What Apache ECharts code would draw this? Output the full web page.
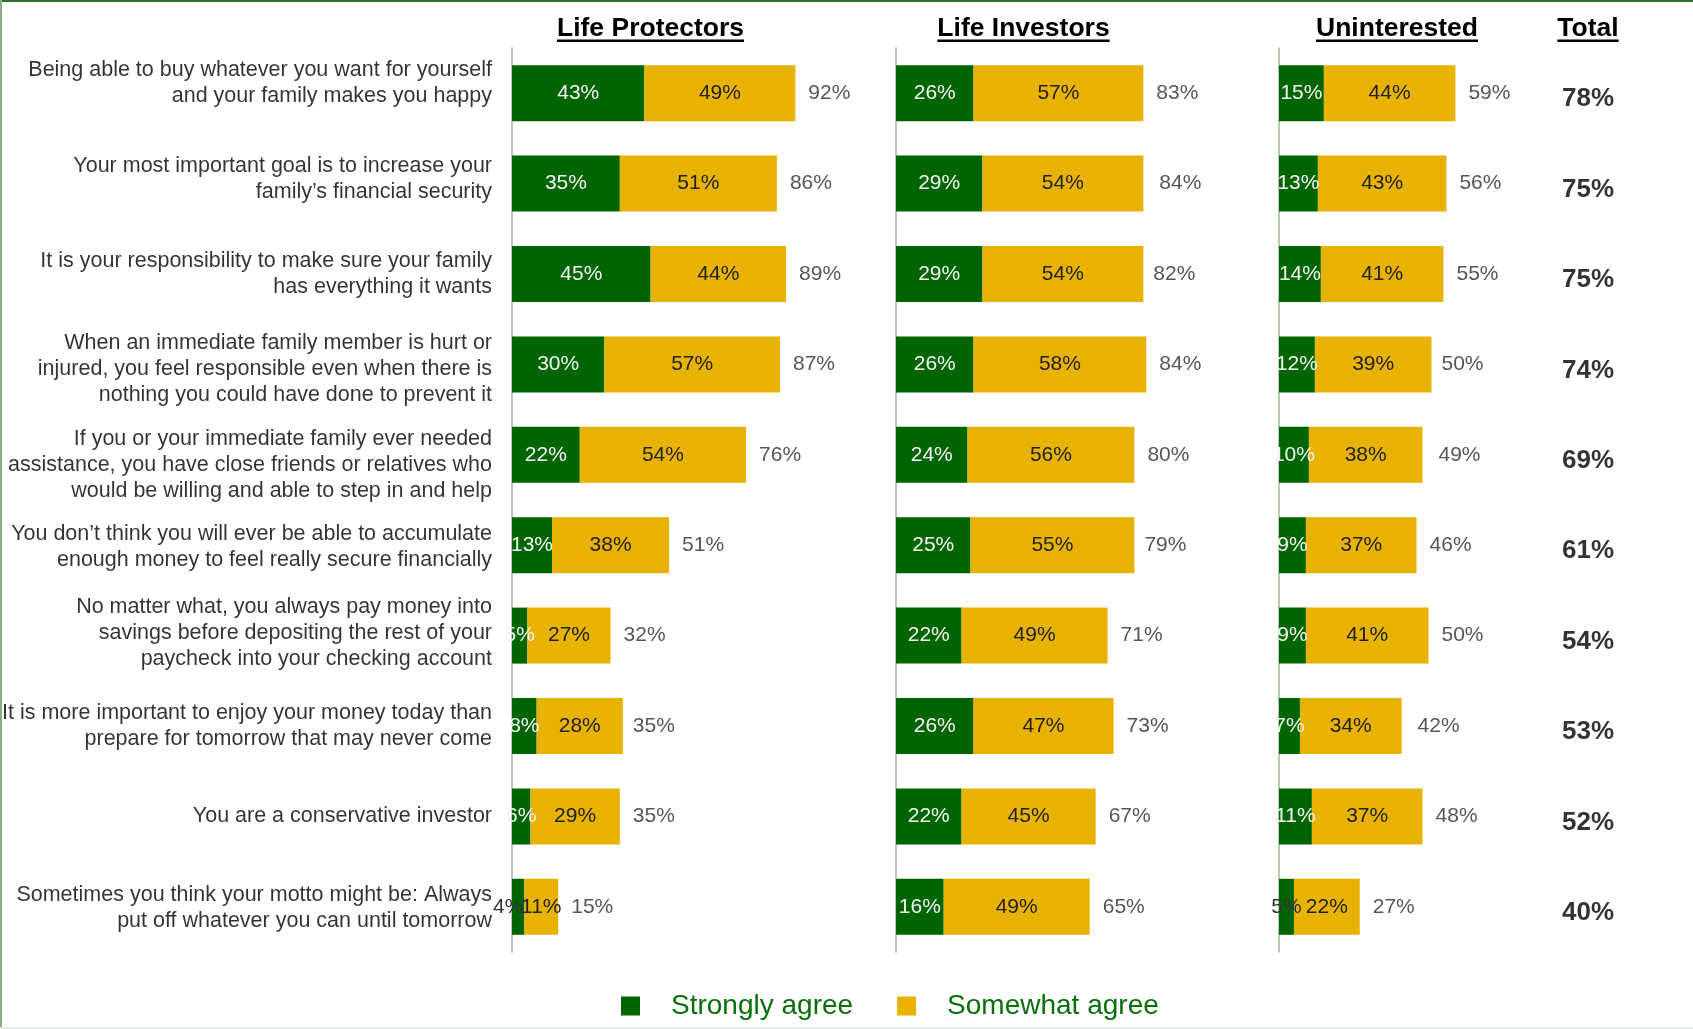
<!DOCTYPE html>
<html>
<head>
<meta charset="utf-8">
<script src="https://cdn.jsdelivr.net/npm/echarts@6/dist/echarts.min.js"></script>
<style>
html,body{margin:0;padding:0;background:#fff;}
#chart{width:1693px;height:1029px;}
</style>
</head>
<body>
<div id="chart"></div>
<script>
// ---------- DATA ----------
var categories = [
  "Being able to buy whatever you want for yourself\nand your family makes you happy",
  "Your most important goal is to increase your\nfamily\u2019s financial security",
  "It is your responsibility to make sure your family\nhas everything it wants",
  "When an immediate family member is hurt or\ninjured, you feel responsible even when there is\nnothing you could have done to prevent it",
  "If you or your immediate family ever needed\nassistance, you have close friends or relatives who\nwould be willing and able to step in and help",
  "You don\u2019t think you will ever be able to accumulate\nenough money to feel really secure financially",
  "No matter what, you always pay money into\nsavings before depositing the rest of your\npaycheck into your checking account",
  "It is more important to enjoy your money today than\nprepare for tomorrow that may never come",
  "You are a conservative investor",
  "Sometimes you think your motto might be: Always\nput off whatever you can until tomorrow"
];
var segmentNames = ["Life Protectors", "Life Investors", "Uninterested"];
var totalHeader = "Total";
var seriesNames = ["Strongly agree", "Somewhat agree"];

var protectorsStrongly = [43, 35, 45, 30, 22, 13, 5, 8, 6, 4];
var protectorsSomewhat = [49, 51, 44, 57, 54, 38, 27, 28, 29, 11];
var protectorsTotal    = [92, 86, 89, 87, 76, 51, 32, 35, 35, 15];

var investorsStrongly  = [26, 29, 29, 26, 24, 25, 22, 26, 22, 16];
var investorsSomewhat  = [57, 54, 54, 58, 56, 55, 49, 47, 45, 49];
var investorsTotal     = [83, 84, 82, 84, 80, 79, 71, 73, 67, 65];

var uninterestedStrongly = [15, 13, 14, 12, 10, 9, 9, 7, 11, 5];
var uninterestedSomewhat = [44, 43, 41, 39, 38, 37, 41, 34, 37, 22];
var uninterestedTotal    = [59, 56, 55, 50, 49, 46, 50, 42, 48, 27];

var overallTotal = [78, 75, 75, 74, 69, 61, 54, 53, 52, 40];

// ---------- STYLE / LAYOUT ----------
var GREEN = '#006400', YELLOW = '#E8B200';
var FONT = '"Liberation Sans", Arial, sans-serif';
var gridTop = 48, gridHeight = 904;
// vertical nudge (px, + = down) of each category label, as placed in the original slide
var labelNudge = [-10, -5, 0, 4.5, 10, 1.5, -3, 0, 0, 1.5];
var panels = [
  {strong: protectorsStrongly, some: protectorsSomewhat, total: protectorsTotal, left: 512, width: 308, center: 650.5},
  {strong: investorsStrongly, some: investorsSomewhat, total: investorsTotal, left: 896, width: 298, center: 1023.5},
  {strong: uninterestedStrongly, some: uninterestedSomewhat, total: uninterestedTotal, left: 1279, width: 299, center: 1397}
];
// small green segments whose label Excel drew in dark colour
var darkStrongLabels = {'0-9': [-10, 0], '2-9': [0, 0]};

var grids = [], xAxes = [], yAxes = [], series = [];
panels.forEach(function (p, i) {
  grids.push({left: p.left, top: gridTop, width: p.width, height: gridHeight, containLabel: false});
  xAxes.push({gridIndex: i, type: 'value', min: 0, max: 100, show: false});
  yAxes.push({
    gridIndex: i, type: 'category', data: categories, inverse: true,
    axisLine: {show: true, lineStyle: {color: '#a3b5a3', width: 1.5}},
    axisTick: {show: false},
    axisLabel: {show: false}
  });
  var strongData = p.strong.map(function (v, k) {
    var key = i + '-' + k;
    if (darkStrongLabels[key]) {
      return {value: v, label: {color: '#333', offset: darkStrongLabels[key]}};
    }
    return v;
  });
  series.push({
    type: 'bar', name: seriesNames[0], xAxisIndex: i, yAxisIndex: i, stack: 's' + i,
    data: strongData, barWidth: 56, itemStyle: {color: GREEN},
    label: {show: true, position: 'inside', formatter: '{c}%', color: '#f4f4f4', fontSize: 21, fontFamily: FONT}
  });
  series.push({
    type: 'bar', name: seriesNames[1], xAxisIndex: i, yAxisIndex: i, stack: 's' + i,
    data: p.some, barWidth: 56, itemStyle: {color: YELLOW},
    label: {show: true, position: 'inside', formatter: '{c}%', color: '#222', fontSize: 21, fontFamily: FONT}
  });
  series.push({
    type: 'scatter', xAxisIndex: i, yAxisIndex: i, symbolSize: 0, silent: true,
    data: p.total.map(function (v, k) { return [v, k]; }),
    label: {show: true, position: 'right', distance: 13, formatter: function (d) { return d.value[0] + '%'; },
      color: '#2a2a2a', fontSize: 21, fontFamily: FONT}
  });
});
// category labels (statement texts) to the left of the first panel
series.push({
  type: 'scatter', xAxisIndex: 0, yAxisIndex: 0, symbolSize: 0, silent: true,
  data: categories.map(function (c, k) {
    return {value: [0, k], label: {offset: [0, labelNudge[k]]}};
  }),
  label: {show: true, position: 'left', distance: 20, align: 'right',
    formatter: function (d) { return categories[d.dataIndex]; },
    color: '#000', fontSize: 21.5, lineHeight: 26, fontFamily: FONT}
});
// Total column
grids.push({left: 1545, top: gridTop, width: 86, height: gridHeight});
xAxes.push({gridIndex: 3, type: 'value', min: 0, max: 1, show: false});
yAxes.push({gridIndex: 3, type: 'category', data: categories, inverse: true, show: false});
series.push({
  type: 'scatter', xAxisIndex: 3, yAxisIndex: 3, symbolSize: 0, silent: true,
  data: overallTotal.map(function (v, k) { return [0.5, k, v]; }),
  label: {show: true, position: 'inside', offset: [0, 6], formatter: function (d) { return d.value[2] + '%'; },
    color: '#000', fontSize: 26, fontWeight: 'bold', fontFamily: FONT}
});

// headers with underline
var measure = document.createElement('canvas').getContext('2d');
measure.font = 'bold 26.5px "Liberation Sans"';
var headers = segmentNames.map(function (n, i) { return {text: n, cx: panels[i].center}; });
headers.push({text: totalHeader, cx: 1588});
var graphics = [
  {type: 'rect', left: 0, top: 0, shape: {width: 1693, height: 2}, style: {fill: '#2f6f2f'}, z: 100},
  {type: 'rect', left: 0, top: 0, shape: {width: 2, height: 1029}, style: {fill: '#86ad86'}, z: 100},
  {type: 'rect', left: 0, top: 1027, shape: {width: 1693, height: 2}, style: {fill: '#e6eae6'}, z: 100}
];
headers.forEach(function (h) {
  var w = measure.measureText(h.text).width;
  graphics.push({type: 'text', x: h.cx, y: 28.5, style: {text: h.text, fill: '#000', font: 'bold 26.5px ' + FONT, textAlign: 'center', textVerticalAlign: 'middle'}});
  graphics.push({type: 'rect', shape: {x: h.cx - w / 2, y: 39.5, width: w, height: 2.5}, style: {fill: '#000'}});
});

var chart = echarts.init(document.getElementById('chart'), null, {renderer: 'canvas'});
chart.setOption({
  animation: false,
  backgroundColor: '#fff',
  grid: grids, xAxis: xAxes, yAxis: yAxes, series: series,
  graphic: graphics,
  legend: {
    data: seriesNames, left: 616, top: 987, icon: 'rect', itemWidth: 19, itemHeight: 19, itemGap: 44,
    textStyle: {fontSize: 28, color: '#0a6e0a', fontFamily: FONT, padding: [0, 0, 0, 26]}
  }
});
</script>
</body>
</html>
